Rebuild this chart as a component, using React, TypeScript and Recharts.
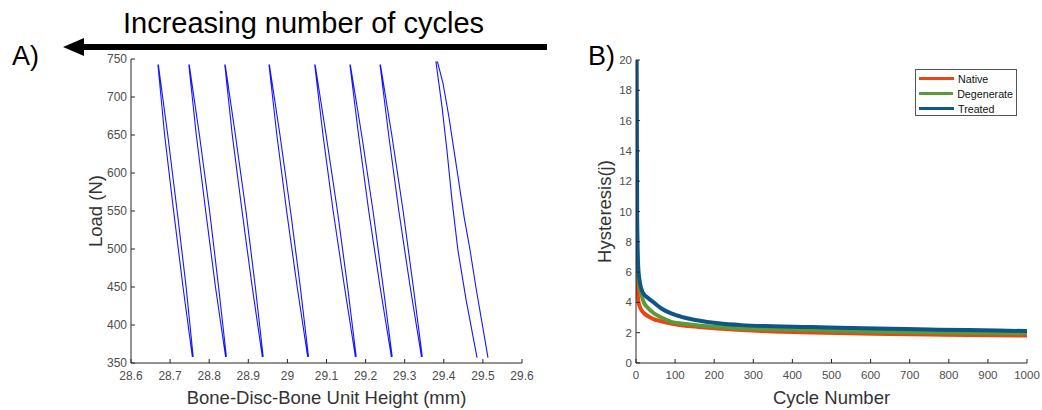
import { ScatterChart, Scatter, LineChart, Line, XAxis, YAxis, Legend } from 'recharts'

const FONT = '"Liberation Sans", Arial, Helvetica, sans-serif'
const AXIS = '#262626'
const TICK_TEXT = '#4d4d4d'

// Panel A: load vs. bone-disc-bone unit height, one hysteresis loop per recorded cycle
// each loop runs bottom of the first branch -> top -> bottom of the second branch
const HEIGHT_TICKS = [28.6, 28.7, 28.8, 28.9, 29, 29.1, 29.2, 29.3, 29.4, 29.5, 29.6]
const LOAD_TICKS = [350, 400, 450, 500, 550, 600, 650, 700, 750]

const LOOP_1 = [
  { h: 28.757, load: 358 }, { h: 28.733, load: 450 }, { h: 28.709, load: 550 }, { h: 28.686, load: 650 }, { h: 28.669, load: 742 },
  { h: 28.67, load: 742 }, { h: 28.694, load: 650 }, { h: 28.718, load: 550 }, { h: 28.741, load: 450 }, { h: 28.759, load: 358 },
]
const LOOP_2 = [
  { h: 28.842, load: 358 }, { h: 28.816, load: 450 }, { h: 28.791, load: 550 }, { h: 28.767, load: 650 }, { h: 28.748, load: 742 },
  { h: 28.749, load: 742 }, { h: 28.775, load: 650 }, { h: 28.801, load: 550 }, { h: 28.824, load: 450 }, { h: 28.844, load: 358 },
]
const LOOP_3 = [
  { h: 28.936, load: 358 }, { h: 28.91, load: 450 }, { h: 28.884, load: 550 }, { h: 28.859, load: 650 }, { h: 28.84, load: 742 },
  { h: 28.841, load: 742 }, { h: 28.867, load: 650 }, { h: 28.894, load: 550 }, { h: 28.918, load: 450 }, { h: 28.938, load: 358 },
]
const LOOP_4 = [
  { h: 29.052, load: 358 }, { h: 29.025, load: 450 }, { h: 28.998, load: 550 }, { h: 28.973, load: 650 }, { h: 28.953, load: 742 },
  { h: 28.954, load: 742 }, { h: 28.981, load: 650 }, { h: 29.008, load: 550 }, { h: 29.033, load: 450 }, { h: 29.054, load: 358 },
]
const LOOP_5 = [
  { h: 29.174, load: 358 }, { h: 29.146, load: 450 }, { h: 29.117, load: 550 }, { h: 29.091, load: 650 }, { h: 29.07, load: 742 },
  { h: 29.071, load: 742 }, { h: 29.099, load: 650 }, { h: 29.128, load: 550 }, { h: 29.154, load: 450 }, { h: 29.176, load: 358 },
]
const LOOP_6 = [
  { h: 29.266, load: 358 }, { h: 29.237, load: 450 }, { h: 29.208, load: 550 }, { h: 29.182, load: 650 }, { h: 29.16, load: 742 },
  { h: 29.161, load: 742 }, { h: 29.19, load: 650 }, { h: 29.219, load: 550 }, { h: 29.245, load: 450 }, { h: 29.268, load: 358 },
]
const LOOP_7 = [
  { h: 29.343, load: 358 }, { h: 29.314, load: 450 }, { h: 29.285, load: 550 }, { h: 29.259, load: 650 }, { h: 29.237, load: 742 },
  { h: 29.238, load: 742 }, { h: 29.267, load: 650 }, { h: 29.296, load: 550 }, { h: 29.322, load: 450 }, { h: 29.345, load: 358 },
]
const LOOP_8 = [
  { h: 29.485, load: 357 }, { h: 29.457, load: 433 }, { h: 29.436, load: 499 }, { h: 29.421, load: 564 }, { h: 29.408, load: 630 }, { h: 29.395, load: 689 }, { h: 29.38, load: 746 },
  { h: 29.384, load: 746 }, { h: 29.398, load: 718 }, { h: 29.413, load: 674 }, { h: 29.426, load: 630 }, { h: 29.452, load: 542 }, { h: 29.467, load: 499 }, { h: 29.482, load: 450 }, { h: 29.513, load: 357 },
]
const LOOPS = [LOOP_1, LOOP_2, LOOP_3, LOOP_4, LOOP_5, LOOP_6, LOOP_7, LOOP_8]

// Panel B: hysteresis energy over cycles
const SERIES = ['Native', 'Degenerate', 'Treated']
const CYCLES = [1, 3, 6, 10, 15, 20, 30, 45, 65, 90, 120, 160, 210, 270, 350, 450, 550, 650, 750, 850, 1000]
const NATIVE = [8.5, 5.3, 4.1, 3.7, 3.45, 3.3, 3.1, 2.9, 2.75, 2.6, 2.48, 2.38, 2.27, 2.17, 2.08, 2.01, 1.96, 1.92, 1.88, 1.85, 1.81]
const DEGENERATE = [12, 7, 5.7, 5.0, 4.4, 4.0, 3.65, 3.3, 3.0, 2.72, 2.6, 2.48, 2.37, 2.28, 2.22, 2.17, 2.1, 2.05, 2.01, 1.98, 1.96]
const TREATED = [26, 9.5, 6.2, 5.3, 4.8, 4.55, 4.3, 4.0, 3.6, 3.27, 3.02, 2.8, 2.62, 2.5, 2.43, 2.37, 2.31, 2.26, 2.21, 2.17, 2.11]
const CYCLE_TICKS = [0, 100, 200, 300, 400, 500, 600, 700, 800, 900, 1000]
const HYST_TICKS = [0, 2, 4, 6, 8, 10, 12, 14, 16, 18, 20]

const hysteresisData = CYCLES.map((cycle, i) => ({
  cycle,
  native: NATIVE[i],
  degenerate: DEGENERATE[i],
  treated: TREATED[i],
}))

const tickStyle = { fill: TICK_TEXT, fontSize: 12 }

function HysteresisLegend({ payload }: any) {
  const items = [...(payload ?? [])].sort((a: any, b: any) => SERIES.indexOf(a.value) - SERIES.indexOf(b.value))
  return (
    <div
      style={{
        width: 102,
        height: 47,
        boxSizing: 'border-box',
        border: '1px solid #555',
        background: '#fff',
        padding: '1px 3px',
        fontFamily: FONT,
      }}
    >
      {items.map((e: any) => (
        <div key={e.value} style={{ display: 'flex', alignItems: 'center', height: 15, fontSize: 10.7, color: '#111' }}>
          <span style={{ display: 'inline-block', width: 35, height: 3, background: e.color, marginRight: 4 }} />
          {e.value}
        </div>
      ))}
    </div>
  )
}

const noDot = () => <g />

function LoadPanel() {
  return (
    <ScatterChart width={540} height={410} margin={{ top: 59, right: 18, bottom: 0, left: 59 }}>
      <XAxis
        type="number"
        dataKey="h"
        domain={[28.6, 29.6]}
        ticks={HEIGHT_TICKS}
        allowDataOverflow
        height={47}
        tickSize={-4}
        tickMargin={12}
        tick={tickStyle}
        axisLine={{ stroke: AXIS }}
        tickLine={{ stroke: AXIS }}
        label={{ value: 'Bone-Disc-Bone Unit Height (mm)', position: 'insideBottom', offset: 6, fill: '#333', fontSize: 18.5 }}
      />
      <XAxis
        xAxisId="top"
        orientation="top"
        type="number"
        domain={[28.6, 29.6]}
        ticks={HEIGHT_TICKS}
        allowDataOverflow
        height={0}
        tickSize={-4}
        tick={false}
        axisLine={{ stroke: AXIS }}
        tickLine={{ stroke: AXIS }}
      />
      <YAxis
        type="number"
        dataKey="load"
        domain={[350, 750]}
        ticks={LOAD_TICKS}
        allowDataOverflow
        width={72}
        tickSize={-4}
        tickMargin={8}
        tick={tickStyle}
        axisLine={{ stroke: AXIS }}
        tickLine={{ stroke: AXIS }}
        label={{ value: 'Load (N)', angle: -90, position: 'center', fill: '#333', fontSize: 18.5 }}
      />
      <YAxis
        yAxisId="right"
        orientation="right"
        type="number"
        domain={[350, 750]}
        ticks={LOAD_TICKS}
        allowDataOverflow
        width={0}
        tickSize={-4}
        tick={false}
        axisLine={{ stroke: AXIS }}
        tickLine={{ stroke: AXIS }}
      />
      {LOOPS.map((loop, i) => (
        <Scatter
          key={i}
          data={loop}
          line={{ stroke: '#1515ff', strokeWidth: 1.1 }}
          lineType="joint"
          shape={noDot}
          fill="#1515ff"
          legendType="none"
          isAnimationActive={false}
        />
      ))}
    </ScatterChart>
  )
}

function HysteresisPanel() {
  return (
    <LineChart width={502} height={410} data={hysteresisData} margin={{ top: 60, right: 15, bottom: 0, left: 32 }}>
      <XAxis
        type="number"
        dataKey="cycle"
        domain={[0, 1000]}
        ticks={CYCLE_TICKS}
        allowDataOverflow
        height={47}
        tickSize={-4}
        tickMargin={12}
        tick={{ fill: TICK_TEXT, fontSize: 11.5 }}
        axisLine={{ stroke: AXIS }}
        tickLine={{ stroke: AXIS }}
        label={{ value: 'Cycle Number', position: 'insideBottom', offset: 6, fill: '#333', fontSize: 18.5 }}
      />
      <XAxis
        xAxisId="top"
        orientation="top"
        type="number"
        domain={[0, 1000]}
        ticks={CYCLE_TICKS}
        allowDataOverflow
        height={0}
        tickSize={-4}
        tick={false}
        axisLine={{ stroke: AXIS }}
        tickLine={{ stroke: AXIS }}
      />
      <YAxis
        type="number"
        domain={[0, 20]}
        ticks={HYST_TICKS}
        allowDataOverflow
        width={64}
        tickSize={-4}
        tickMargin={8}
        tick={{ fill: TICK_TEXT, fontSize: 11.5 }}
        axisLine={{ stroke: AXIS }}
        tickLine={{ stroke: AXIS }}
        label={{ value: 'Hysteresis(j)', angle: -90, position: 'center', fill: '#333', fontSize: 18.5 }}
      />
      <YAxis
        yAxisId="right"
        orientation="right"
        type="number"
        domain={[0, 20]}
        ticks={HYST_TICKS}
        allowDataOverflow
        width={0}
        tickSize={-4}
        tick={false}
        axisLine={{ stroke: AXIS }}
        tickLine={{ stroke: AXIS }}
      />
      <Legend
        layout="vertical"
        align="center"
        verticalAlign="middle"
        wrapperStyle={{ left: 375, top: 69, width: 102, height: 47 }}
        content={<HysteresisLegend />}
      />
      <Line name="Native" dataKey="native" type="monotone" stroke="#ee4411" strokeWidth={4} dot={false} isAnimationActive={false} />
      <Line name="Degenerate" dataKey="degenerate" type="monotone" stroke="#5a9a3a" strokeWidth={4} dot={false} isAnimationActive={false} />
      <Line name="Treated" dataKey="treated" type="monotone" stroke="#0f5688" strokeWidth={4} dot={false} isAnimationActive={false} />
    </LineChart>
  )
}

export default function App() {
  return (
    <div style={{ position: 'fixed', left: 0, top: 0, width: 1042, height: 410, background: '#fff', fontFamily: FONT, overflow: 'hidden' }}>
      <div style={{ position: 'absolute', left: 0, top: 0 }}>
        <LoadPanel />
      </div>
      <div style={{ position: 'absolute', left: 540, top: 0 }}>
        <HysteresisPanel />
      </div>
      <svg width={1042} height={410} style={{ position: 'absolute', left: 0, top: 0, pointerEvents: 'none' }}>
        <text x={123} y={33} fontSize={29} fill="#000" fontFamily={FONT}>
          Increasing number of cycles
        </text>
        <rect x={80} y={44} width={467} height={6} fill="#000" />
        <polygon points="63,47 84,38 84,56" fill="#000" />
        <text x={12} y={65} fontSize={27} fill="#000" fontFamily={FONT}>
          A)
        </text>
        <text x={588} y={65} fontSize={27} fill="#000" fontFamily={FONT}>
          B)
        </text>
      </svg>
    </div>
  )
}
